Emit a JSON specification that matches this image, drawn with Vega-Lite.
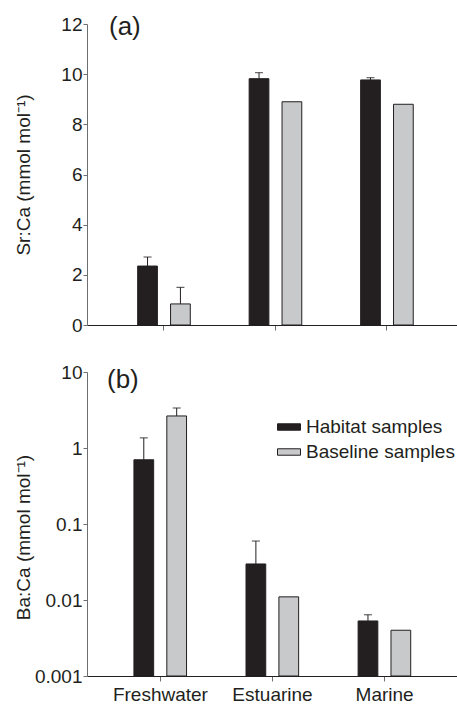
{
  "$schema": "https://vega.github.io/schema/vega-lite/v6.json",
  "background": "white",
  "padding": {"left": 14, "top": 14, "right": 0, "bottom": 0},
  "config": {
    "font": "Liberation Sans",
    "view": {"stroke": null},
    "axis": {
      "grid": false,
      "domainColor": "#6d6e70",
      "tickColor": "#6d6e70",
      "labelFont": "Liberation Sans",
      "labelFontSize": 19,
      "labelColor": "#231f20",
      "titleFont": "Liberation Sans",
      "titleFontSize": 19,
      "titleFontWeight": "normal",
      "titleColor": "#231f20"
    },
    "title": {"font": "Liberation Sans", "fontSize": 26, "fontWeight": "normal", "color": "#231f20"}
  },
  "data": {
    "values": [
      {"habitat": "Freshwater", "sample": "Habitat samples", "sr": 2.35, "sr_hi": 2.71, "ba": 0.70, "ba_hi": 1.36},
      {"habitat": "Freshwater", "sample": "Baseline samples", "sr": 0.84, "sr_hi": 1.5, "ba": 2.64, "ba_hi": 3.36},
      {"habitat": "Estuarine", "sample": "Habitat samples", "sr": 9.82, "sr_hi": 10.06, "ba": 0.0298, "ba_hi": 0.0597},
      {"habitat": "Estuarine", "sample": "Baseline samples", "sr": 8.9, "sr_hi": null, "ba": 0.011, "ba_hi": null},
      {"habitat": "Marine", "sample": "Habitat samples", "sr": 9.77, "sr_hi": 9.86, "ba": 0.0053, "ba_hi": 0.0064},
      {"habitat": "Marine", "sample": "Baseline samples", "sr": 8.8, "sr_hi": null, "ba": 0.0040, "ba_hi": null}
    ]
  },
  "spacing": 28,
  "resolve": {"legend": {"color": "independent"}},
  "vconcat": [
    {
      "width": 371,
      "height": 301,
      "title": {"text": "(a)", "anchor": "start", "frame": "group", "dx": 22, "dy": 25, "offset": 0},
      "encoding": {
        "x": {
          "field": "habitat", "type": "nominal",
          "sort": ["Freshwater", "Estuarine", "Marine"],
          "scale": {"paddingInner": 0.41, "paddingOuter": 0.369, "align": 0.536},
          "axis": {"title": null, "labels": false, "tickSize": 5, "domainColor": "#231f20"}
        },
        "xOffset": {
          "field": "sample", "type": "nominal",
          "sort": ["Habitat samples", "Baseline samples"],
          "scale": {"paddingInner": 0.4, "paddingOuter": 0.2}
        }
      },
      "layer": [
        {
          "mark": {"type": "bar", "stroke": "#231f20", "strokeWidth": 1},
          "encoding": {
            "y": {
              "field": "sr", "type": "quantitative",
              "scale": {"domain": [0, 12]},
              "axis": {"title": "Sr:Ca (mmol mol⁻¹)", "values": [0, 2, 4, 6, 8, 10, 12], "tickSize": 4, "labelPadding": 1, "titleX": -64, "titleBaseline": "middle"}
            },
            "color": {
              "field": "sample", "type": "nominal",
              "scale": {"domain": ["Habitat samples", "Baseline samples"], "range": ["#231f20", "#c8c9cb"]},
              "legend": null
            }
          }
        },
        {
          "transform": [{"filter": "datum.sr_hi != null"}],
          "mark": {"type": "rule", "color": "#231f20", "strokeWidth": 1},
          "encoding": {
            "y": {"field": "sr", "type": "quantitative"},
            "y2": {"field": "sr_hi"}
          }
        },
        {
          "transform": [{"filter": "datum.sr_hi != null"}],
          "mark": {"type": "tick", "color": "#231f20", "size": 8, "thickness": 1.2},
          "encoding": {
            "y": {"field": "sr_hi", "type": "quantitative"}
          }
        }
      ]
    },
    {
      "width": 371,
      "height": 304,
      "title": {"text": "(b)", "anchor": "start", "frame": "group", "dx": 20, "dy": 30, "offset": 0},
      "encoding": {
        "x": {
          "field": "habitat", "type": "nominal",
          "sort": ["Freshwater", "Estuarine", "Marine"],
          "scale": {"paddingInner": 0.41, "paddingOuter": 0.36},
          "axis": {"title": null, "labelAngle": 0, "tickSize": 5, "labelPadding": 4, "domainColor": "#231f20"}
        },
        "xOffset": {
          "field": "sample", "type": "nominal",
          "sort": ["Habitat samples", "Baseline samples"],
          "scale": {"paddingInner": 0.4, "paddingOuter": 0.2}
        }
      },
      "layer": [
        {
          "mark": {"type": "bar", "stroke": "#231f20", "strokeWidth": 1},
          "encoding": {
            "y": {
              "field": "ba", "type": "quantitative",
              "scale": {"type": "log", "domain": [0.001, 10]},
              "axis": {"title": "Ba:Ca (mmol mol⁻¹)", "values": [0.001, 0.01, 0.1, 1, 10], "format": "~g", "tickSize": 4, "labelPadding": 1, "titleX": -64, "titleY": 165, "titleBaseline": "middle"}
            },
            "y2": {"datum": 0.001},
            "color": {
              "field": "sample", "type": "nominal",
              "scale": {"domain": ["Habitat samples", "Baseline samples"], "range": ["#231f20", "#c8c9cb"]},
              "legend": {
                "title": null,
                "orient": "none",
                "legendX": 190,
                "legendY": 43,
                "symbolType": "M-1,-0.28H1V0.28H-1Z",
                "symbolSize": 529,
                "symbolStrokeColor": "#231f20",
                "symbolStrokeWidth": 1,
                "labelFontSize": 19,
                "labelFont": "Liberation Sans",
                "labelColor": "#231f20",
                "labelOffset": 5,
                "rowPadding": 3
              }
            }
          }
        },
        {
          "transform": [{"filter": "datum.ba_hi != null"}],
          "mark": {"type": "rule", "color": "#231f20", "strokeWidth": 1},
          "encoding": {
            "y": {"field": "ba", "type": "quantitative"},
            "y2": {"field": "ba_hi"}
          }
        },
        {
          "transform": [{"filter": "datum.ba_hi != null"}],
          "mark": {"type": "tick", "color": "#231f20", "size": 8, "thickness": 1.2},
          "encoding": {
            "y": {"field": "ba_hi", "type": "quantitative"}
          }
        }
      ]
    }
  ]
}
